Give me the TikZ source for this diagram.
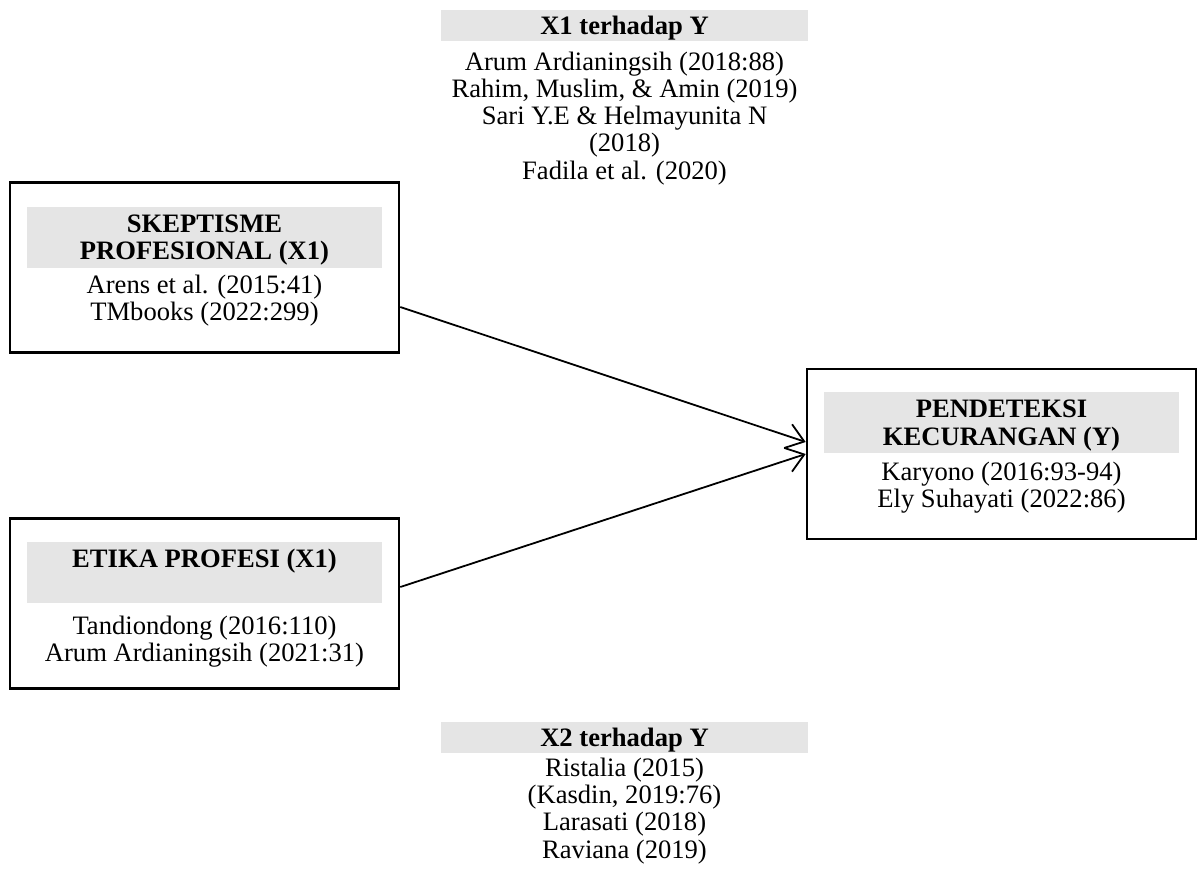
\documentclass[tikz,border=0pt]{standalone}
\usepackage{fontspec}
\setmainfont{Liberation Serif}
\usepackage{xcolor}
\usepackage{tikz}
\usetikzlibrary{arrows.meta,positioning}

\begin{document}
\begin{tikzpicture}[
  x=1pt,y=1pt,
  node distance=3pt,
  vbox/.style={draw,line width=1.3pt,minimum width=194.5pt,minimum height=85pt,inner sep=0pt},
  vhead/.style={fill=gray!20,minimum width=177.5pt,minimum height=30.5pt,inner sep=0pt,text depth=0pt,align=center,font=\fontsize{13.3}{13.6}\selectfont\bfseries},
  lhead/.style={fill=gray!20,minimum width=183.5pt,minimum height=15.5pt,inner sep=0pt,text depth=0pt,align=center,font=\fontsize{13.3}{13.6}\selectfont\bfseries},
  vref/.style={inner sep=0pt,align=center,font=\fontsize{13.3}{13.6}\selectfont},
  arr/.style={-{Straight Barb[length=8.5pt,width=12.5pt]},line width=0.9pt}
]
\useasboundingbox (0,0) rectangle (600,-436.5);
\node[vbox] (skep) at (102.25,-133.75) {};
\node[vhead,below=12.5pt of skep.north] (skephead) {SKEPTISME\\PROFESIONAL (X1)};
\node[vref,below=3.4pt of skephead] (skepref) {Arens et al. (2015:41)\\TMbooks (2022:299)};
\node[vbox] (etika) at (102.25,-301.75) {};
\node[vhead,below=12pt of etika.north] (etikahead) {ETIKA PROFESI (X1)\\\strut};
\node[vref,below=6.4pt of etikahead] (etikaref) {Tandiondong (2016:110)\\Arum Ardianingsih (2021:31)};
\node[vbox] (pend) at (500.75,-227) {};
\node[vhead,below=12pt of pend.north] (pendhead) {PENDETEKSI\\KECURANGAN (Y)};
\node[vref,below=3.9pt of pendhead] (pendref) {Karyono (2016:93-94)\\Ely Suhayati (2022:86)};
\node[lhead] (xyhead) at (312.25,-12.75) {X1 terhadap Y};
\node[vref,below=5pt of xyhead] (xyref) {Arum Ardianingsih (2018:88)\\Rahim, Muslim, \& Amin (2019)\\Sari Y.E \& Helmayunita N\\(2018)\\Fadila et al. (2020)};
\node[lhead] (xxhead) at (312.25,-368.5) {X2 terhadap Y};
\node[vref,below=2.4pt of xxhead] (xxref) {Ristalia (2015)\\(Kasdin, 2019:76)\\Larasati (2018)\\Raviana (2019)};
\draw[arr] ([yshift=-19.75pt]skep.east) -- ([yshift=6pt]pend.west);
\draw[arr] ([yshift=8.25pt]etika.east) -- (pend.west);
\end{tikzpicture}
\end{document}
